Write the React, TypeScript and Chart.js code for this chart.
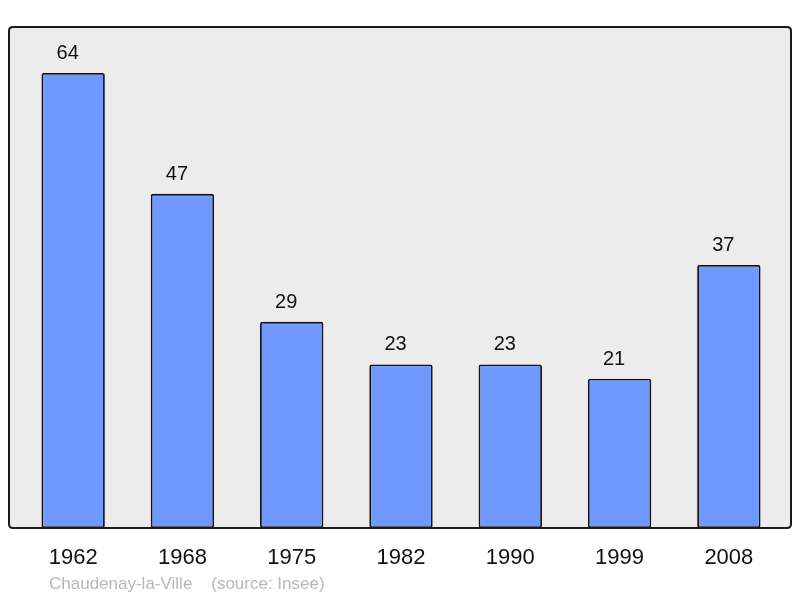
import React, { useEffect, useRef } from "react";
import { Chart, registerables } from "chart.js";

Chart.register(...registerables);

const years = ["1962", "1968", "1975", "1982", "1990", "1999", "2008"];
const population = [64, 47, 29, 23, 23, 21, 37];
const sourceText = "Chaudenay-la-Ville    (source: Insee)";

const FONT = "'Liberation Sans', Arial, sans-serif";

function framePath(ctx: any, l: number, t: number, r: number, b: number, rad: number) {
  ctx.beginPath();
  ctx.moveTo(l + rad, t);
  ctx.lineTo(r - rad, t);
  ctx.quadraticCurveTo(r, t, r, t + rad);
  ctx.lineTo(r, b - rad);
  ctx.quadraticCurveTo(r, b, r - rad, b);
  ctx.lineTo(l + rad, b);
  ctx.quadraticCurveTo(l, b, l, b - rad);
  ctx.lineTo(l, t + rad);
  ctx.quadraticCurveTo(l, t, l + rad, t);
  ctx.closePath();
}

const framePlugin = {
  id: "frame",
  beforeDraw(chart: any) {
    const { ctx, chartArea } = chart;
    ctx.save();
    framePath(ctx, chartArea.left - 9.5, chartArea.top, chartArea.right + 7.5, chartArea.bottom, 4);
    ctx.fillStyle = "#ececec";
    ctx.fill();
    ctx.restore();
  },
  afterDatasetsDraw(chart: any) {
    const { ctx, chartArea } = chart;
    ctx.save();
    framePath(ctx, chartArea.left - 9.5, chartArea.top, chartArea.right + 7.5, chartArea.bottom, 4);
    ctx.strokeStyle = "#1a1a1a";
    ctx.lineWidth = 2;
    ctx.stroke();

    // value labels
    const meta = chart.getDatasetMeta(0);
    ctx.fillStyle = "#111";
    ctx.font = `20px ${FONT}`;
    ctx.textAlign = "center";
    ctx.textBaseline = "alphabetic";
    meta.data.forEach((bar: any, i: number) => {
      ctx.fillText(String(population[i]), bar.x - 5.5, bar.y - 14);
    });

    // source text
    ctx.fillStyle = "#b8b8b8";
    ctx.font = `17px ${FONT}`;
    ctx.textAlign = "left";
    ctx.fillText(sourceText, 49, chart.height - 9);
    ctx.restore();
  },
};

export default function App() {
  const ref = useRef<HTMLCanvasElement>(null);
  useEffect(() => {
    if (!ref.current) return;
    const chart = new Chart(ref.current, {
      type: "bar",
      data: {
        labels: years,
        datasets: [
          {
            data: population,
            backgroundColor: "#6f99ff",
            borderColor: "#111",
            borderWidth: 1.8,
            borderRadius: 2,
            borderSkipped: false,
            barPercentage: 0.58,
            categoryPercentage: 1,
          },
        ],
      },
      options: {
        animation: false,
        responsive: false,
        layout: { padding: { left: 18.5, right: 16.5, top: 27, bottom: 0 } },
        plugins: {
          legend: { display: false },
          tooltip: { enabled: false },
          title: { display: false },
        },
        scales: {
          x: {
            grid: { display: false },
            border: { display: false },
            ticks: {
              color: "#111",
              font: { size: 22, family: FONT },
              padding: 9,
              maxRotation: 0,
            },
            afterFit(scale: any) {
              scale.height = 70;
            },
          },
          y: {
            display: false,
            min: 0,
            max: 70.47,
          },
        },
      },
      plugins: [framePlugin],
    });
    return () => chart.destroy();
  }, []);
  return (
    <div style={{ position: "fixed", left: 0, top: 0, width: 800, height: 598 }}>
      <canvas ref={ref} width={800} height={598} style={{ width: 800, height: 598 }} />
    </div>
  );
}
